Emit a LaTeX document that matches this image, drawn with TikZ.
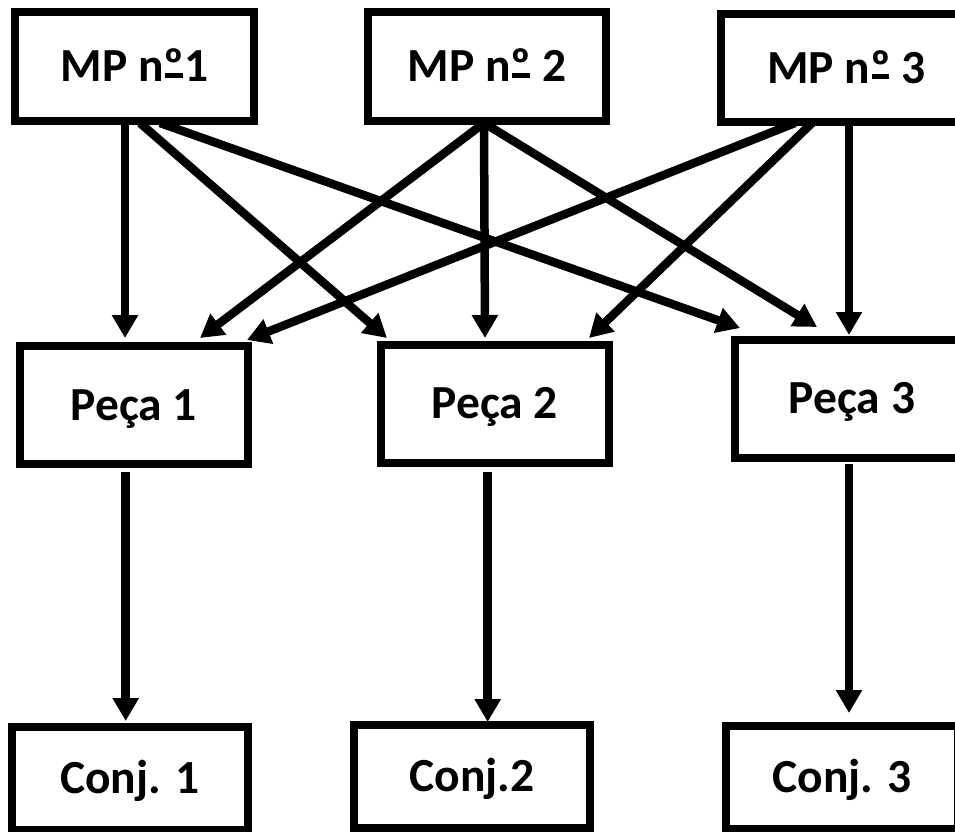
\documentclass[tikz,border=0pt]{standalone}
\usepackage{fontspec}
\setmainfont{Carlito}
\usetikzlibrary{arrows.meta}
% masculine ordinal with the bar underneath it
\newcommand\ordbar{\leavevmode\setbox0\hbox{º}%
  \rlap{\hbox to\wd0{\hss\rule[4pt]{0.85\wd0}{5pt}\hss}}\box0\relax}
\begin{document}
\begin{tikzpicture}[x=1pt,y=-1pt,
  box/.style={draw=black,line width=8pt,rectangle,inner sep=0pt,
    font=\fontsize{47.5}{50}\selectfont\bfseries,
    text height=30pt,text depth=0pt},
  flow/.style={line width=8.5pt,-{Triangle[width=25pt,length=23pt]}}]
  % page and background
  \useasboundingbox[fill=white] (0,0) rectangle (955,831);

  % raw materials
  \node[box,minimum width=239pt,minimum height=109pt] (mp1) at (134.5,66.5) {MP n\ordbar1};
  \node[box,minimum width=238pt,minimum height=109pt] (mp2) at (487,66.5) {MP n\ordbar\ 2};
  \node[box,minimum width=251pt,minimum height=108.5pt] (mp3) at (846.5,68) {MP n\ordbar\ 3};

  % parts
  \node[box,minimum width=227.5pt,minimum height=118pt] (p1) at (133.75,405) {Peça 1};
  \node[box,minimum width=227.5pt,minimum height=117.5pt] (p2) at (494.75,403.75) {Peça 2};
  \node[box,minimum width=234pt,minimum height=118.5pt] (p3) at (852,398.75) {Peça 3};

  % assemblies
  \node[box,minimum width=236pt,minimum height=103pt] (c1) at (130,778) {Conj. 1};
  \node[box,minimum width=236pt,minimum height=103pt] (c2) at (472,776) {Conj.2};
  \node[box,minimum width=232pt,minimum height=103pt] (c3) at (842,777.5) {Conj. 3};

  % arrow ends
  \coordinate (mp1a) at (125,123);
  \coordinate (mp1b) at (140,123);
  \coordinate (mp1c) at (160,123);
  \coordinate (mp2a) at (484,123);
  \coordinate (mp3a) at (795,123);
  \coordinate (mp3b) at (812,123);
  \coordinate (mp3c) at (849,123);
  \coordinate (p1in1) at (125,338);
  \coordinate (p1in2) at (200,338);
  \coordinate (p1in3) at (247,340);
  \coordinate (p2in1) at (387,338);
  \coordinate (p2in2) at (485,338);
  \coordinate (p2in3) at (589,338);
  \coordinate (p3in1) at (740,328);
  \coordinate (p3in2) at (817,327);
  \coordinate (p3in3) at (849,335);
  \coordinate (p1out) at (125.7,472);
  \coordinate (p2out) at (487.7,472);
  \coordinate (p3out) at (849,464);
  \coordinate (c1in) at (125.7,721);
  \coordinate (c2in) at (487.7,722);
  \coordinate (c3in) at (849,713);

  % raw materials to parts
  \draw[flow] (mp1a) -- (p1in1);
  \draw[flow] (mp1b) -- (p2in1);
  \draw[flow] (mp1c) -- (p3in1);
  \draw[flow] (mp2a) -- (p1in2);
  \draw[flow] (mp2a) -- (p2in2);
  \draw[flow] (mp2a) -- (p3in2);
  \draw[flow] (mp3a) -- (p1in3);
  \draw[flow] (mp3b) -- (p2in3);
  \draw[flow] (mp3c) -- (p3in3);

  % parts to assemblies
  \draw[flow] (p1out) -- (c1in);
  \draw[flow] (p2out) -- (c2in);
  \draw[flow] (p3out) -- (c3in);
\end{tikzpicture}
\end{document}
